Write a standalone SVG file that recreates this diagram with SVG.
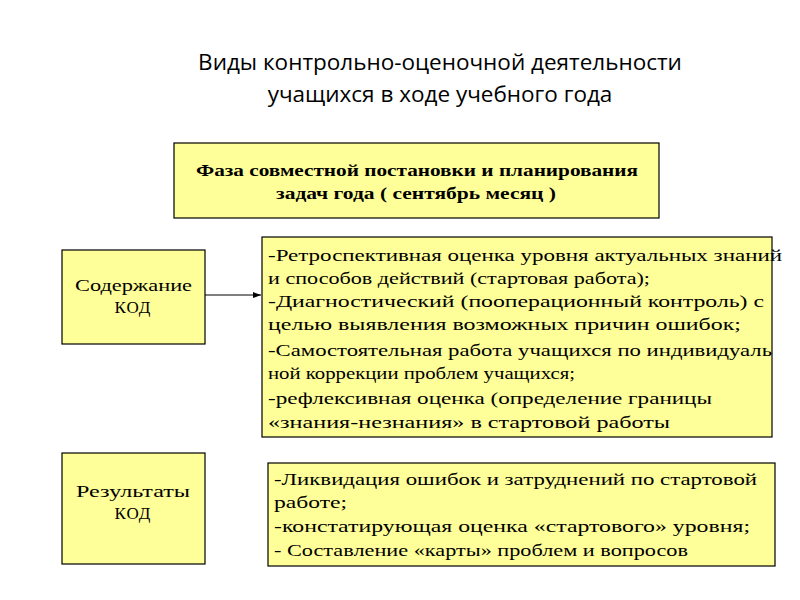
<svg xmlns="http://www.w3.org/2000/svg" width="800" height="600" viewBox="0 0 800 600">
<style>
.box{fill:#ffff99;stroke:#000;stroke-width:1.2}
.t{font-family:"Liberation Serif",serif;font-size:17px;fill:#000}
.title{font-family:"Open Sans","Liberation Sans",sans-serif;font-size:22.5px;fill:#000;text-anchor:middle}
</style>
<defs><marker id="a" markerWidth="8" markerHeight="8" refX="8" refY="4" orient="auto" markerUnits="userSpaceOnUse"><path d="M0,1 L8,4 L0,7 z" fill="#000"/></marker></defs>
<rect width="800" height="600" fill="#fff"/>
<g id="title"><text class="title" x="440" y="70">Виды контрольно-оценочной деятельности</text><text class="title" x="440" y="102">учащихся в ходе учебного года</text></g>
<g id="phase"><rect class="box" x="174" y="143" width="485" height="75"/>
<text class="t" x="196" y="176" font-weight="bold" font-size="16" textLength="442" lengthAdjust="spacingAndGlyphs">Фаза совместной постановки и планирования</text>
<text class="t" x="276" y="199" font-weight="bold" font-size="16" textLength="280" lengthAdjust="spacingAndGlyphs">задач года ( сентябрь месяц )</text></g>
<g id="content"><rect class="box" x="62" y="250" width="143" height="94"/>
<text class="t" x="75" y="291" textLength="117" lengthAdjust="spacingAndGlyphs">Содержание</text><text class="t" x="133" y="313" text-anchor="middle" letter-spacing="1">КОД</text></g>
<g id="contentList" class="t"><rect class="box" x="262" y="237" width="510" height="200"/>
<text x="268" y="261" textLength="514" lengthAdjust="spacingAndGlyphs">-Ретроспективная оценка уровня актуальных знаний</text>
<text x="268" y="284" textLength="382" lengthAdjust="spacingAndGlyphs">и способов действий (стартовая работа);</text>
<text x="268" y="307" textLength="496" lengthAdjust="spacingAndGlyphs">-Диагностический (пооперационный контроль) с</text>
<text x="268" y="330" textLength="473" lengthAdjust="spacingAndGlyphs">целью выявления возможных причин ошибок;</text>
<text x="268" y="356" textLength="504" lengthAdjust="spacingAndGlyphs">-Самостоятельная работа учащихся по индивидуаль</text>
<text x="268" y="379" textLength="307" lengthAdjust="spacingAndGlyphs">ной коррекции проблем учащихся;</text>
<text x="268" y="404" textLength="444" lengthAdjust="spacingAndGlyphs">-рефлексивная оценка (определение границы</text>
<text x="268" y="428" textLength="402" lengthAdjust="spacingAndGlyphs">«знания-незнания» в стартовой работы</text></g>
<g id="results"><rect class="box" x="62" y="453" width="143" height="111"/>
<text class="t" x="76" y="497" textLength="114" lengthAdjust="spacingAndGlyphs">Результаты</text><text class="t" x="133" y="519" text-anchor="middle" letter-spacing="1">КОД</text></g>
<g id="resultsList" class="t"><rect class="box" x="268" y="463" width="507" height="103"/>
<text x="274" y="485" textLength="483" lengthAdjust="spacingAndGlyphs">-Ликвидация ошибок и затруднений по стартовой</text>
<text x="274" y="508" textLength="73" lengthAdjust="spacingAndGlyphs">работе;</text>
<text x="274" y="532" textLength="476" lengthAdjust="spacingAndGlyphs">-констатирующая оценка «стартового» уровня;</text>
<text x="274" y="556" textLength="414" lengthAdjust="spacingAndGlyphs">- Составление «карты» проблем и вопросов</text></g>
<g id="connectors"><line x1="205" y1="295" x2="261" y2="295" stroke="#000" stroke-width="1" marker-end="url(#a)"/></g>
</svg>
